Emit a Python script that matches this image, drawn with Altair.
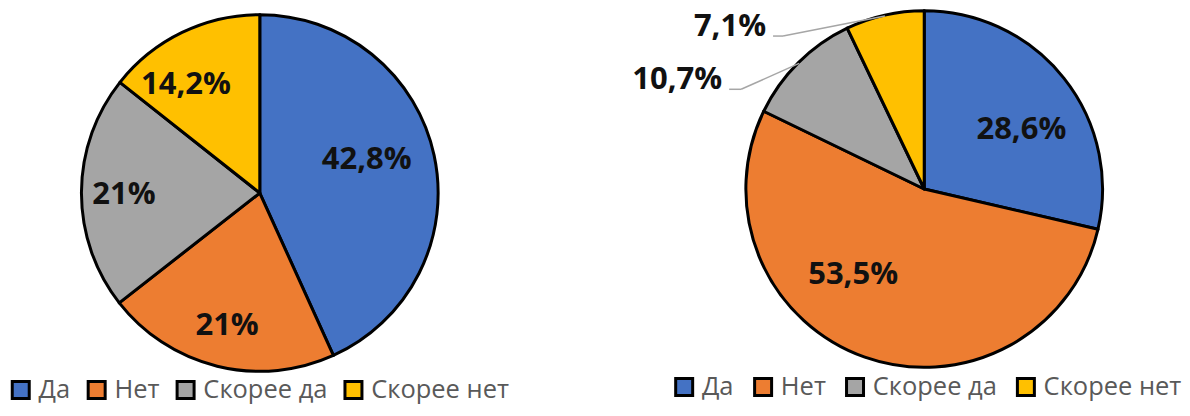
import math
import altair as alt
import pandas as pd

# ---------------- data ----------------
CATEGORIES = ["Да", "Нет", "Скорее да", "Скорее нет"]
COLORS = ["#4472C4", "#ED7D31", "#A5A5A5", "#FFC000"]

LEFT_VALUES = [42.8, 21, 21, 14.2]
LEFT_LABELS = ["42,8%", "21%", "21%", "14,2%"]

RIGHT_VALUES = [28.6, 53.5, 10.7, 7.1]
RIGHT_LABELS = ["28,6%", "53,5%", "10,7%", "7,1%"]

# ---------------- layout ----------------
PANEL_H = 395
LEFT_W, RIGHT_W = 590, 584
LEFT_C = (252, 185)
RIGHT_C = (327, 181)
R_OUT = 178.5

# inside labels: index -> (angle nudge in degrees, label radius px)
LEFT_INSIDE = {0: (-5, 112), 1: (0, 137), 2: (-1, 136), 3: (-8.5, 131)}
RIGHT_INSIDE = {0: (7, 114), 1: (20, 112)}
# outside labels: index -> (elbow dx, elbow dy, horizontal length)
RIGHT_OUTSIDE = {2: (-58, 26, 12), 3: (-102, 20, 10)}

THETA = alt.Scale(domain=[0, 360], range=[0, 2 * math.pi])
COLOR_SCALE = alt.Scale(domain=CATEGORIES, range=COLORS)
LABEL_FONT = "Open Sans"


def slices(values, labels):
    total = sum(values)
    rows, acc = [], 0.0
    for cat, v, lab in zip(CATEGORIES, values, labels):
        start = acc / total * 360
        acc += v
        end = acc / total * 360
        rows.append(dict(cat=cat, value=v, label=lab, start=start, end=end,
                         mid=(start + end) / 2))
    return pd.DataFrame(rows)


def make_legend(x, y, pad):
    return alt.Legend(title=None, orient="none", legendX=x, legendY=y,
                      direction="horizontal", symbolType="square", symbolSize=289,
                      symbolStrokeColor="black", symbolStrokeWidth=3,
                      symbolOpacity=1, labelFont=LABEL_FONT, labelFontSize=25.5,
                      labelColor="#595959", labelOffset=5, columnPadding=pad,
                      padding=0)


def pie(values, labels, center, inside, outside, legend, width):
    df = slices(values, labels)
    cx, cy = center
    arcs = alt.Chart(df).mark_arc(outerRadius=R_OUT, stroke="black", strokeWidth=3,
                                   strokeJoin="round").encode(
        x=alt.value(cx), y=alt.value(cy),
        theta=alt.Theta("start:Q", scale=THETA), theta2="end:Q",
        color=alt.Color("cat:N", scale=COLOR_SCALE, legend=legend),
    )
    din = df.loc[list(inside.keys())].copy()
    din["ang"] = [df.loc[i, "mid"] + inside[i][0] for i in inside]
    din["lr"] = [inside[i][1] for i in inside]
    texts = alt.Chart(din).mark_text(font=LABEL_FONT, fontSize=31, fontWeight="bold",
                                     color="#111111", align="center",
                                     baseline="middle").encode(
        x=alt.value(cx), y=alt.value(cy),
        theta=alt.Theta("ang:Q", scale=THETA),
        radius=alt.Radius("lr:Q", scale=None),
        text="label:N",
    )
    layers = [arcs, texts]
    if outside:
        segs, outs = [], []
        for i, (dx, dy, hl) in outside.items():
            m = math.radians(df.loc[i, "mid"])
            ex = cx + (R_OUT - 1) * math.sin(m)
            ey = cy - (R_OUT - 1) * math.cos(m)
            bx, by = ex + dx, ey + dy
            ax = bx - hl
            segs.append(dict(x=ex, y=ey, x2=bx, y2=by))
            segs.append(dict(x=bx, y=by, x2=ax, y2=by))
            outs.append(dict(label=df.loc[i, "label"], tx=ax - 7, ty=by))
        seg_df = pd.DataFrame(segs)
        out_df = pd.DataFrame(outs)
        rules = alt.Chart(seg_df).mark_rule(color="#A6A6A6", strokeWidth=1.5).encode(
            x=alt.X("x:Q", scale=None, axis=None),
            y=alt.Y("y:Q", scale=None, axis=None),
            x2="x2:Q", y2="y2:Q",
        )
        otext = alt.Chart(out_df).mark_text(font=LABEL_FONT, fontSize=31,
                                            fontWeight="bold", color="#111111",
                                            align="right",
                                            baseline="alphabetic").encode(
            x=alt.X("tx:Q", scale=None, axis=None),
            y=alt.Y("ty:Q", scale=None, axis=None),
            text="label:N",
        )
        layers += [rules, otext]
    return alt.layer(*layers).properties(width=width, height=PANEL_H)


left = pie(LEFT_VALUES, LEFT_LABELS, LEFT_C, LEFT_INSIDE, None,
           make_legend(0, 369, 11), LEFT_W)
right = pie(RIGHT_VALUES, RIGHT_LABELS, RIGHT_C, RIGHT_INSIDE, RIGHT_OUTSIDE,
            make_legend(74, 366, 14), RIGHT_W)

chart = (
    alt.hconcat(left, right, spacing=0)
    .resolve_scale(color="independent")
    .properties(padding=0)
    .configure_view(stroke=None)
)

chart.save("out.html", embed_options={"renderer": "svg", "actions": False})
